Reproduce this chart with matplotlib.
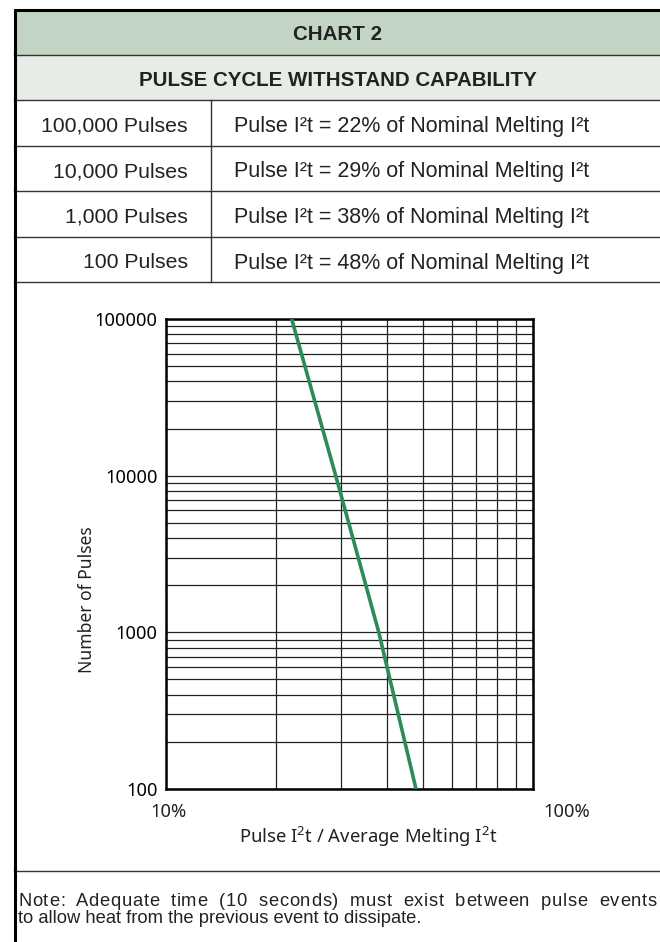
import matplotlib
matplotlib.use('Agg')
import numpy as np
import matplotlib.pyplot as plt
from matplotlib.patches import Rectangle
from matplotlib.ticker import NullFormatter

pulses = [100000, 10000, 1000, 100]
pct_of_melting = [22, 29, 38, 48]          # pulse I2t as % of nominal melting I2t

y_ticks = [100, 1000, 10000, 100000]
x_ticks = [0.1, 1.0]
x_tick_labels = ['10%', '100%']

title = 'CHART 2'
subtitle = 'PULSE CYCLE WITHSTAND CAPABILITY'
note_lines = ['Note: Adequate time (10 seconds) must exist between pulse events',
              'to allow heat from the previous event to dissipate.']

plt.rcParams['mathtext.fontset'] = 'custom'
plt.rcParams['mathtext.rm'] = 'Noto Sans'

W, H = 660, 942
fig = plt.figure(figsize=(W / 100, H / 100), dpi=100)

# full-figure axes in pixel coords for the table frame
bg = fig.add_axes([0, 0, 1, 1], zorder=0)
bg.set_xlim(0, W)
bg.set_ylim(H, 0)
bg.axis('off')

txt_col = '#222222'
tbl_font = 'Liberation Sans'

bg.add_patch(Rectangle((14, 9), W, 46, fc='#c2d4c3', ec='none'))
bg.add_patch(Rectangle((14, 55), W, 45, fc='#e7ece7', ec='none'))

row_edges = [100, 146, 191, 237, 282]
for y in [55] + row_edges + [871]:
    bg.plot([14, W], [y, y], color='#333333', lw=1.0)
bg.plot([211, 211], [100, 282], color='#333333', lw=1.0)
bg.plot([14, W], [9.5, 9.5], color='black', lw=2.2, solid_capstyle='butt')
bg.plot([15, 15], [8.5, H], color='black', lw=2.2, solid_capstyle='butt')

bg.text(338, 33, title, ha='center', va='center_baseline', fontsize=14.8,
        fontweight='bold', family=tbl_font, color=txt_col)
bg.text(338, 78, subtitle, ha='center', va='center_baseline', fontsize=14.8,
        fontweight='bold', family=tbl_font, color=txt_col)

for i, (n, p) in enumerate(zip(pulses, pct_of_melting)):
    yc = (row_edges[i] + row_edges[i + 1]) / 2 + 1
    bg.text(188, yc, f'{n:,} Pulses', ha='right', va='center_baseline',
            fontsize=15.3, family=tbl_font, color=txt_col)
    bg.text(234, yc, f'Pulse I\u00b2t = {p}% of Nominal Melting I\u00b2t',
            ha='left', va='center_baseline', fontsize=15.5, family=tbl_font,
            color=txt_col)

# note: first line is justified to the full width (a little letter spacing
# plus wider word gaps), last line left-aligned
renderer = fig.canvas.get_renderer()
note_kw = dict(ha='left', va='baseline', fontsize=13.2, family=tbl_font, color=txt_col)
line = note_lines[0]
probe = bg.text(0, 0, '', **note_kw)
prefix_w = []
for k in range(len(line) + 1):
    probe.set_text(line[:k] + '|')
    prefix_w.append(probe.get_window_extent(renderer).width)
bar_w = prefix_w[0]
prefix_w = [w - bar_w for w in prefix_w]
probe.remove()
letter_extra = 0.8
n_spaces = line.count(' ')
word_extra = (657 - 18 - prefix_w[-1] - letter_extra * (len(line) - 1)) / n_spaces
spaces_before = 0
for k, ch in enumerate(line):
    if ch == ' ':
        spaces_before += 1
        continue
    bg.text(18 + prefix_w[k] + letter_extra * k + word_extra * spaces_before, 906,
            ch, **note_kw)
bg.text(18, 923, note_lines[1], **note_kw)

# --- log-log chart ---
ax = fig.add_axes([166 / W, 1 - 789 / H, 367 / W, 470 / H], zorder=1)
ax.set_xscale('log')
ax.set_yscale('log')
ax.set_xlim(0.1, 1.0)
ax.set_ylim(100, 100000)

ax.plot(np.array(pct_of_melting) / 100, pulses, color='#2e8b57', lw=2.6,
        solid_capstyle='butt', zorder=3)

ax.grid(which='both', color='#222222', lw=0.9)
ax.tick_params(which='both', length=0)
ax.set_yticks(y_ticks, [str(v) for v in y_ticks])
ax.set_xticks(x_ticks, ['', ''])
ax.xaxis.set_minor_formatter(NullFormatter())
ax.yaxis.set_minor_formatter(NullFormatter())
ax.tick_params(axis='y', pad=6, labelsize=13.2, labelfontfamily='Noto Sans')
for s in ax.spines.values():
    s.set_linewidth(1.8)

# x tick labels (the 100% label sits right of its gridline in the original)
for xv, lab, dx in zip(x_ticks, x_tick_labels, [2, 34]):
    ax.annotate(lab, xy=(xv, 0), xycoords=('data', 'axes fraction'),
                xytext=(dx, -23), textcoords='offset pixels', ha='center',
                va='center', fontsize=13.2, family='Noto Sans', color=txt_col)

bg.text(368, 837, r'Pulse I$^{\mathrm{2}}$t / Average Melting I$^{\mathrm{2}}$t',
        ha='center', va='center', fontsize=13.3, family='Noto Sans', color=txt_col)
bg.text(87, 600, 'Number of Pulses', rotation=90, ha='center', va='center',
        fontsize=12.6, family='Noto Sans', color=txt_col)

plt.savefig('out.png', dpi=100)
plt.close()
